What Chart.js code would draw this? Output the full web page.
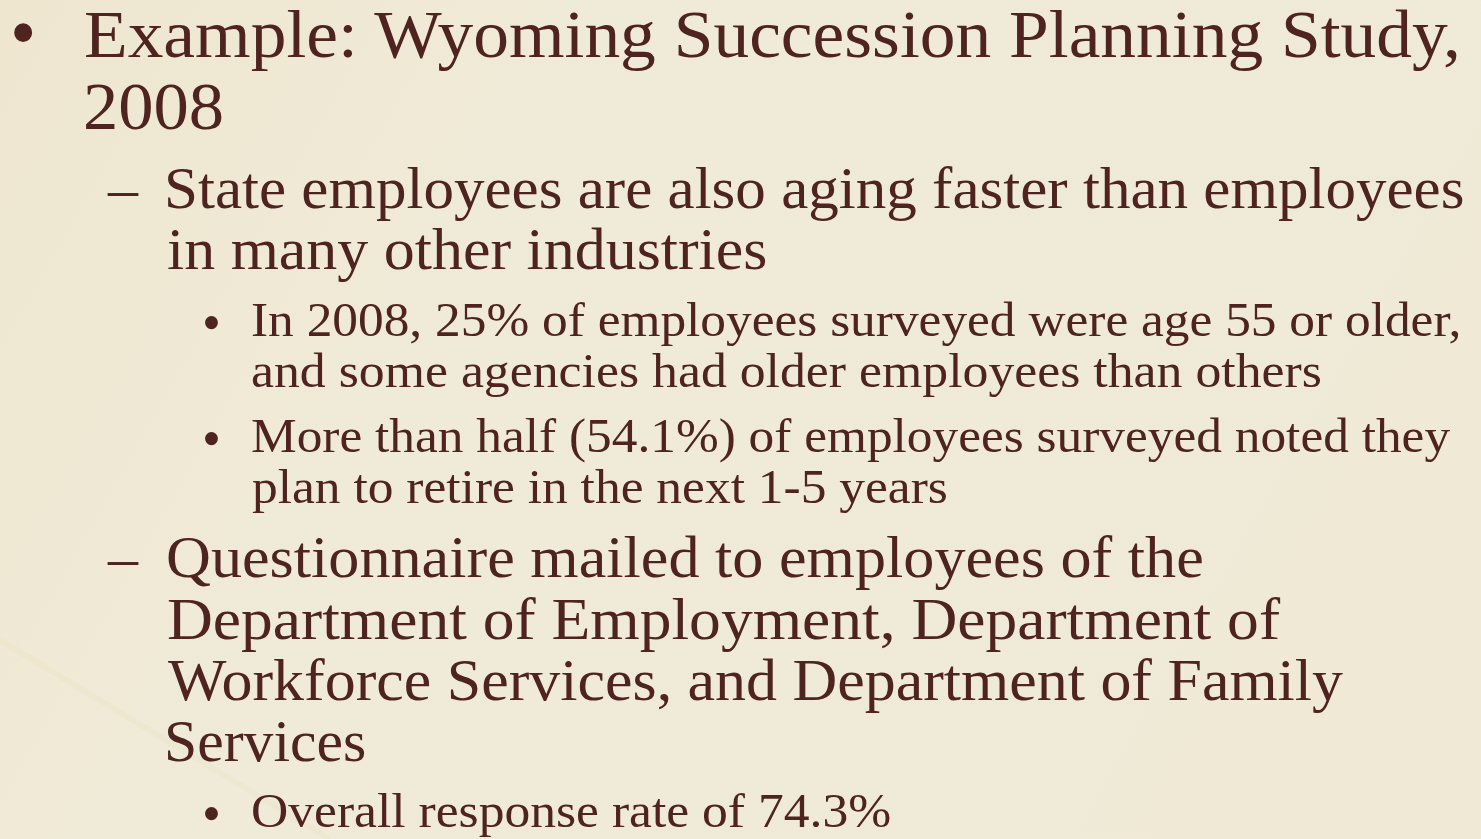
<!DOCTYPE html>
<html><head><meta charset="utf-8">
<script src="https://cdn.jsdelivr.net/npm/chart.js@4.4.0/dist/chart.umd.min.js"></script>
<style>
html,body{margin:0;padding:0;width:1481px;height:839px;overflow:hidden;background:#efe9d6}
#bg{position:absolute;left:0;top:0}
#txt{position:absolute;left:0;top:0;width:1481px;height:839px}
.ln{position:absolute;white-space:pre;color:#4f2420;font-family:"Liberation Serif",serif;transform-origin:0 0;margin:0;padding:0}
</style></head><body>
<canvas id="bg" width="1481" height="839"></canvas>
<div id="txt"></div>
<script>
// ---- slide content ----
const headingLines = ["Example: Wyoming Succession Planning Study,", "2008"];
const agingLines = ["State employees are also aging faster than employees", "in many other industries"];
const ageFactLines = ["In 2008, 25% of employees surveyed were age 55 or older,", "and some agencies had older employees than others"];
const retireFactLines = ["More than half (54.1%) of employees surveyed noted they", "plan to retire in the next 1-5 years"];
const surveyLines = ["Questionnaire mailed to employees of the", "Department of Employment, Department of", "Workforce Services, and Department of Family", "Services"];
const responseLines = ["Overall response rate of 74.3%"];
const bulletMark = "\u2022";
const dashMark = "\u2013";

// ---- layout (positions kept separate from content) ----
const LEVEL = {
  1: {size: 68, x: 85, bullet: {l: 14, r: 33, dy: 25}},
  2: {size: 60, x: 168, dash: {l: 107, r: 139}},
  3: {size: 48, x: 252, bullet: {l: 205, r: 218, dy: 13}}
};
const blocks = [
  {lines: headingLines, level: 1, baselines: [57, 129], rights: [1458, 222]},
  {lines: agingLines, level: 2, baselines: [208, 269], rights: [1463, 766]},
  {lines: ageFactLines, level: 3, baselines: [336, 387], rights: [1458, 1320]},
  {lines: retireFactLines, level: 3, baselines: [452, 503], rights: [1450, 946]},
  {lines: surveyLines, level: 2, baselines: [577, 639, 700, 761], rights: [1202, 1280, 1343, 365]},
  {lines: responseLines, level: 3, baselines: [827], rights: [890]}
];

// ---- Chart.js paints the paper ----
const paper = {
  id: 'paper',
  beforeDraw(chart) {
    const c = chart.ctx, w = chart.width, h = chart.height;
    c.save();
    const g = c.createLinearGradient(0, 0, w, h);
    g.addColorStop(0, '#eee6cf');
    g.addColorStop(0.35, '#f0ebd9');
    g.addColorStop(1, '#efe9d6');
    c.fillStyle = g;
    c.fillRect(0, 0, w, h);
    c.strokeStyle = 'rgba(235,222,180,0.18)';
    c.lineWidth = 6;
    c.beginPath(); c.moveTo(0, 640); c.lineTo(330, 839); c.stroke();
    c.restore();
  }
};
new Chart(document.getElementById('bg'), {
  type: 'scatter',
  data: {datasets: []},
  options: {
    responsive: false, animation: false, events: [],
    layout: {padding: 0},
    plugins: {legend: {display: false}, tooltip: {enabled: false}, title: {display: false}},
    scales: {x: {display: false}, y: {display: false}}
  },
  plugins: [paper]
});

// ---- text placement ----
const mctx = document.createElement('canvas').getContext('2d');
const host = document.getElementById('txt');
function fontOf(size) { return size + 'px "Liberation Serif"'; }
function placeText(text, size, left, right, baseline) {
  mctx.font = fontOf(size);
  const m = mctx.measureText(text);
  const gl = -m.actualBoundingBoxLeft, gr = m.actualBoundingBoxRight;
  const sx = (right - left) / (gr - gl);
  const asc = m.fontBoundingBoxAscent, desc = m.fontBoundingBoxDescent;
  const s = document.createElement('div');
  s.className = 'ln';
  s.textContent = text;
  s.style.font = fontOf(size);
  s.style.lineHeight = (asc + desc) + 'px';
  s.style.top = (baseline - asc) + 'px';
  s.style.left = (left - gl * sx) + 'px';
  s.style.transform = 'scaleX(' + sx + ')';
  host.appendChild(s);
}
function placeGlyph(text, l, t, r, b) {
  const base = 100;
  mctx.font = fontOf(base);
  const m = mctx.measureText(text);
  const gh = m.actualBoundingBoxAscent + m.actualBoundingBoxDescent;
  const k = (b - t) / gh;
  const size = base * k;
  mctx.font = fontOf(size);
  const m2 = mctx.measureText(text);
  const baseline = b - m2.actualBoundingBoxDescent;
  placeText(text, size, l, r, baseline);
}

blocks.forEach(bl => {
  const lv = LEVEL[bl.level];
  bl.lines.forEach((line, i) => {
    placeText(line, lv.size, lv.x, bl.rights[i], bl.baselines[i]);
  });
  const b0 = bl.baselines[0];
  if (lv.bullet) {
    const cy = b0 - lv.bullet.dy, d = lv.bullet.r - lv.bullet.l;
    placeGlyph(bulletMark, lv.bullet.l, cy - d / 2, lv.bullet.r, cy + d / 2);
  }
  if (lv.dash) {
    placeText(dashMark, lv.size, lv.dash.l, lv.dash.r, b0);
  }
});
</script>
</body></html>
